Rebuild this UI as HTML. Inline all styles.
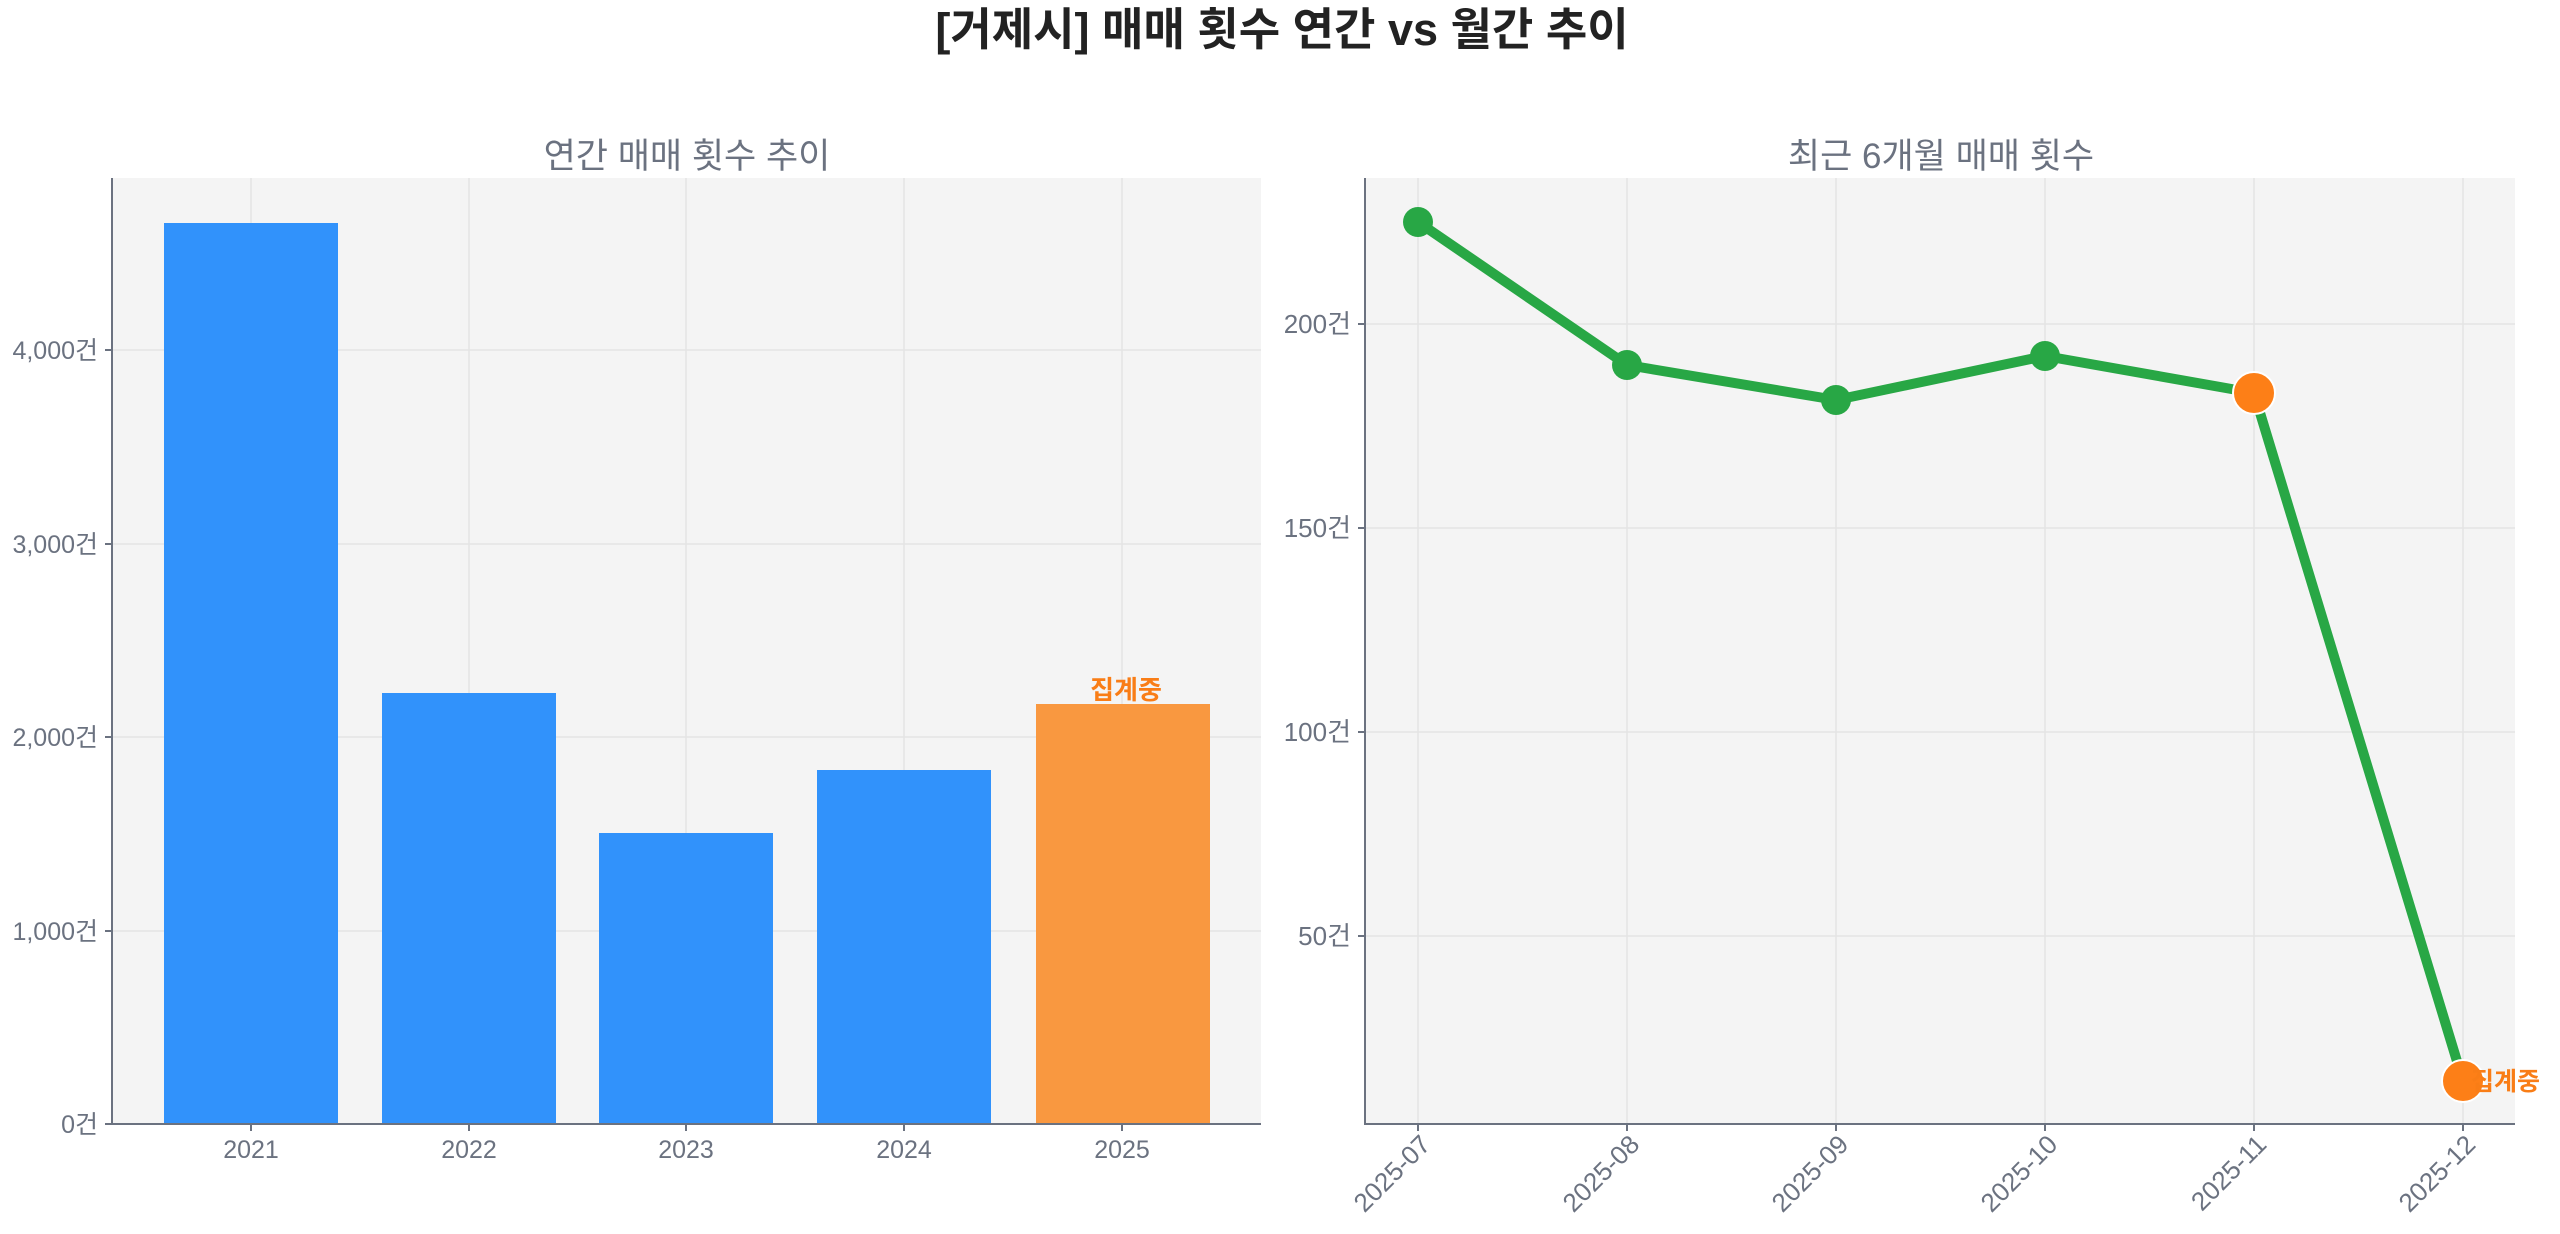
<!DOCTYPE html>
<html><head><meta charset="utf-8"><style>
html,body{margin:0;padding:0;background:#fff;}
svg{display:block;font-family:"Liberation Sans","Noto Sans CJK KR",sans-serif;}
</style></head><body>
<svg width="2560" height="1234" viewBox="0 0 2560 1234" xmlns="http://www.w3.org/2000/svg">
<text x="1282" y="45" text-anchor="middle" font-size="45" font-weight="bold" fill="#222">[거제시] 매매 횟수 연간 vs 월간 추이</text>

<!-- Left plot -->
<text x="687" y="168" text-anchor="middle" font-size="35" fill="#6b7280">연간 매매 횟수 추이</text>
<rect x="112" y="178" width="1149" height="946" fill="#f4f4f4"/>
<g stroke="#e4e4e4" stroke-width="1.5">
<line x1="251" y1="178" x2="251" y2="1124"/><line x1="469" y1="178" x2="469" y2="1124"/>
<line x1="686" y1="178" x2="686" y2="1124"/><line x1="904" y1="178" x2="904" y2="1124"/>
<line x1="1122" y1="178" x2="1122" y2="1124"/>
<line x1="112" y1="931" x2="1261" y2="931"/><line x1="112" y1="737" x2="1261" y2="737"/>
<line x1="112" y1="544" x2="1261" y2="544"/><line x1="112" y1="350" x2="1261" y2="350"/>
</g>
<rect x="164" y="223" width="174" height="901" fill="#3192fb"/>
<rect x="382" y="693" width="174" height="431" fill="#3192fb"/>
<rect x="599" y="833" width="174" height="291" fill="#3192fb"/>
<rect x="817" y="770" width="174" height="354" fill="#3192fb"/>
<rect x="1036" y="704" width="174" height="420" fill="#f99840"/>
<text x="1126" y="699" text-anchor="middle" font-size="26" font-weight="bold" fill="#f97d16">집계중</text>
<g stroke="#6b7280" stroke-width="2">
<line x1="112" y1="178" x2="112" y2="1125"/><line x1="111" y1="1124" x2="1261" y2="1124"/>
<line x1="105" y1="1124" x2="112" y2="1124"/><line x1="105" y1="931" x2="112" y2="931"/>
<line x1="105" y1="737" x2="112" y2="737"/><line x1="105" y1="544" x2="112" y2="544"/>
<line x1="105" y1="350" x2="112" y2="350"/>
<line x1="251" y1="1124" x2="251" y2="1131"/><line x1="469" y1="1124" x2="469" y2="1131"/>
<line x1="686" y1="1124" x2="686" y2="1131"/><line x1="904" y1="1124" x2="904" y2="1131"/>
<line x1="1122" y1="1124" x2="1122" y2="1131"/>
</g>
<g font-size="25" fill="#6b7280" text-anchor="end">
<text x="98" y="1133">0건</text><text x="98" y="940">1,000건</text>
<text x="98" y="746">2,000건</text><text x="98" y="553">3,000건</text><text x="98" y="359">4,000건</text>
</g>
<g font-size="25" fill="#6b7280" text-anchor="middle">
<text x="251" y="1158">2021</text><text x="469" y="1158">2022</text><text x="686" y="1158">2023</text>
<text x="904" y="1158">2024</text><text x="1122" y="1158">2025</text>
</g>

<!-- Right plot -->
<text x="1941" y="168" text-anchor="middle" font-size="35" fill="#6b7280">최근 6개월 매매 횟수</text>
<rect x="1365" y="178" width="1150" height="946" fill="#f4f4f4"/>
<g stroke="#e4e4e4" stroke-width="1.5">
<line x1="1418" y1="178" x2="1418" y2="1124"/><line x1="1627" y1="178" x2="1627" y2="1124"/>
<line x1="1836" y1="178" x2="1836" y2="1124"/><line x1="2045" y1="178" x2="2045" y2="1124"/>
<line x1="2254" y1="178" x2="2254" y2="1124"/><line x1="2463" y1="178" x2="2463" y2="1124"/>
<line x1="1365" y1="936" x2="2515" y2="936"/><line x1="1365" y1="732" x2="2515" y2="732"/>
<line x1="1365" y1="528" x2="2515" y2="528"/><line x1="1365" y1="324" x2="2515" y2="324"/>
</g>
<polyline points="1418,222 1627,365 1836,400 2045,356 2254,393 2463,1081" fill="none" stroke="#28a745" stroke-width="10" stroke-linejoin="round"/>
<g fill="#28a745">
<circle cx="1418" cy="222" r="15"/><circle cx="1627" cy="365" r="15"/>
<circle cx="1836" cy="400" r="15"/><circle cx="2045" cy="356" r="15"/>
</g>
<circle cx="2254" cy="393" r="21" fill="#fd7f17" stroke="#fff" stroke-width="2"/>
<circle cx="2463" cy="1081" r="21" fill="#fd7f17" stroke="#fff" stroke-width="2"/>
<text x="2471" y="1090" font-size="25" font-weight="bold" fill="#f97d16">집계중</text>
<g stroke="#6b7280" stroke-width="2">
<line x1="1365" y1="178" x2="1365" y2="1125"/><line x1="1364" y1="1124" x2="2515" y2="1124"/>
<line x1="1358" y1="936" x2="1365" y2="936"/><line x1="1358" y1="732" x2="1365" y2="732"/>
<line x1="1358" y1="528" x2="1365" y2="528"/><line x1="1358" y1="324" x2="1365" y2="324"/>
<line x1="1418" y1="1124" x2="1418" y2="1131"/><line x1="1627" y1="1124" x2="1627" y2="1131"/>
<line x1="1836" y1="1124" x2="1836" y2="1131"/><line x1="2045" y1="1124" x2="2045" y2="1131"/>
<line x1="2254" y1="1124" x2="2254" y2="1131"/><line x1="2463" y1="1124" x2="2463" y2="1131"/>
</g>
<g font-size="26" fill="#6b7280" text-anchor="end">
<text x="1351" y="945">50건</text><text x="1351" y="741">100건</text>
<text x="1351" y="537">150건</text><text x="1351" y="333">200건</text>
</g>
<g font-size="26" fill="#6b7280" text-anchor="end">
<text transform="translate(1432,1146) rotate(-45)">2025-07</text>
<text transform="translate(1641,1146) rotate(-45)">2025-08</text>
<text transform="translate(1850,1146) rotate(-45)">2025-09</text>
<text transform="translate(2059,1146) rotate(-45)">2025-10</text>
<text transform="translate(2268,1146) rotate(-45)">2025-11</text>
<text transform="translate(2477,1146) rotate(-45)">2025-12</text>
</g>
</svg>
</body></html>
